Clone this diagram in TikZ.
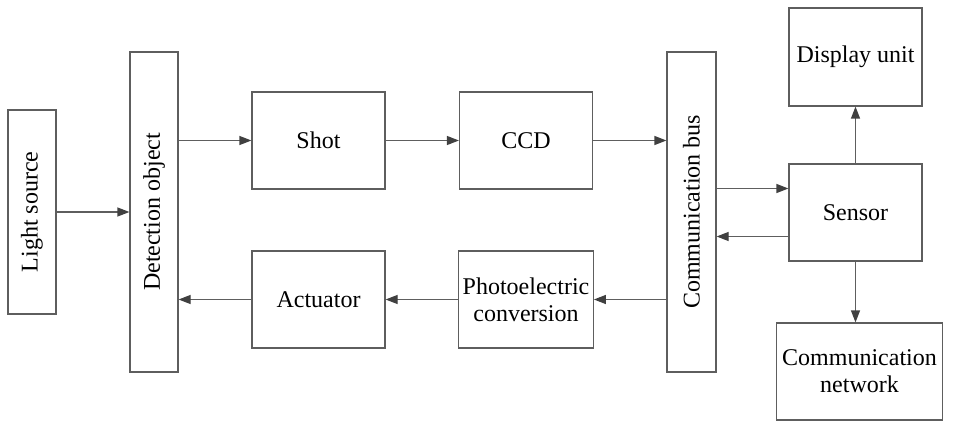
\documentclass[tikz,border=0pt]{standalone}
\usepackage{fontspec}
\setmainfont{Liberation Serif}
\newfontfamily\timesfont{Liberation Serif}
\usetikzlibrary{arrows.meta}
\definecolor{linegray}{HTML}{5E5E5E}
\definecolor{tipgray}{HTML}{404040}
\tikzset{
  block/.style={draw=linegray, line width=0.6pt, align=center, inner sep=2pt,
    font=\timesfont\fontsize{12}{13.5}\selectfont},
  flow/.style={draw=linegray, line width=0.6pt,
    -{Triangle[length=6pt,width=4.5pt,color=tipgray,fill=tipgray]}},
}
\begin{document}
\begin{tikzpicture}[x=0.5pt,y=-0.5pt]
\useasboundingbox (0,0) rectangle (953,433);
% tall boxes (text turned)
\node[block, rotate=90, minimum width=102pt, minimum height=24pt] (light) at (32,212) {Light source};
\node[block, rotate=90, minimum width=160pt, minimum height=24pt] (detect) at (154,212) {Detection object};
\node[block, rotate=90, minimum width=160pt, minimum height=24.5pt] (bus) at (691.5,212) {Communication bus};
% upper row
\node[block, minimum width=66.5pt, minimum height=48.5pt] (shot) at (318.5,140.5) {Shot};
\node[block, minimum width=66.5pt, minimum height=48.5pt] (ccd) at (526,140.5) {CCD};
% lower row
\node[block, minimum width=66.5pt, minimum height=48.5pt] (actuator) at (318.5,299.5) {Actuator};
\node[block, minimum width=66.5pt, minimum height=48.5pt] (photo) at (526,299.5) {Photoelectric\\conversion};
% right column
\node[block, minimum width=66.5pt, minimum height=49pt] (display) at (855.5,57) {Display unit};
\node[block, minimum width=66.5pt, minimum height=48.5pt] (sensor) at (855.5,212.5) {Sensor};
\node[block, minimum width=83pt, minimum height=48.5pt] (network) at (859.5,371.5) {Communication\\network};
\coordinate (sin) at ([yshift=12pt]sensor.west);
\coordinate (sout) at ([yshift=-12pt]sensor.west);
% connectors
\draw[flow] (light) -- (detect);
\draw[flow] (detect.south |- shot.west) -- (shot.west);
\draw[flow] (shot) -- (ccd);
\draw[flow] (ccd.east) -- (bus.north |- ccd.east);
\draw[flow] (bus.south |- sin) -- (sin);
\draw[flow] (sout) -- (bus.south |- sout);
\draw[flow] (sensor) -- (display);
\draw[flow] (sensor.south) -- (sensor.south |- network.north);
\draw[flow] (bus.north |- photo.east) -- (photo.east);
\draw[flow] (photo) -- (actuator);
\draw[flow] (actuator.west) -- (detect.south |- actuator.west);
\end{tikzpicture}
\end{document}
